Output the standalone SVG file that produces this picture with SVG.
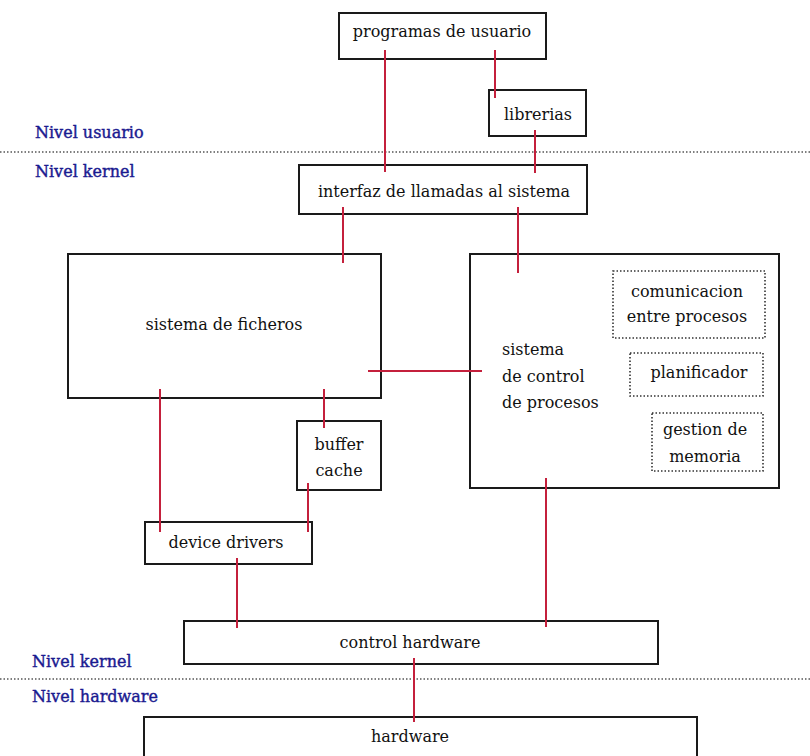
<svg xmlns="http://www.w3.org/2000/svg" width="810" height="756" viewBox="0 0 810 756">
<style>
.box{fill:none;stroke:#1a1a1a;stroke-width:2}
.dbox{fill:none;stroke:#333;stroke-width:1.6;stroke-dasharray:1.5 2}
.t{font-family:"DejaVu Serif","Liberation Serif",serif;font-size:16px;fill:#111;text-anchor:middle}
.tl{font-family:"DejaVu Serif","Liberation Serif",serif;font-size:16px;fill:#111}
.lvl{font-family:"DejaVu Serif","Liberation Serif",serif;font-size:16px;fill:#1a1a90;stroke:#1a1a90;stroke-width:0.4}
.sep{stroke:#555;stroke-width:1.5;stroke-dasharray:1.5 2}
.c{stroke:#c4203c;stroke-width:2;fill:none}
</style>
<rect width="810" height="756" fill="#fff"/>
<g id="levels">
<line class="sep" x1="0" y1="152" x2="810" y2="152"/>
<line class="sep" x1="0" y1="679" x2="810" y2="679"/>
<text class="lvl" x="35" y="138">Nivel usuario</text>
<text class="lvl" x="35" y="177">Nivel kernel</text>
<text class="lvl" x="32" y="667">Nivel kernel</text>
<text class="lvl" x="32" y="702">Nivel hardware</text>
</g>
<g id="programas">
<rect class="box" x="339" y="13" width="207" height="46"/>
<text class="t" x="442" y="37">programas de usuario</text>
</g>
<g id="librerias">
<rect class="box" x="489" y="90" width="97" height="46"/>
<text class="t" x="538" y="120">librerias</text>
</g>
<g id="interfaz">
<rect class="box" x="299" y="165" width="288" height="49"/>
<text class="t" x="444" y="197">interfaz de llamadas al sistema</text>
</g>
<g id="ficheros">
<rect class="box" x="68" y="254" width="313" height="144"/>
<text class="t" x="224" y="330">sistema de ficheros</text>
</g>
<g id="control-procesos">
<rect class="box" x="470" y="254" width="309" height="234"/>
<text class="tl" x="502" y="355">sistema</text>
<text class="tl" x="502" y="382">de control</text>
<text class="tl" x="502" y="408">de procesos</text>
</g>
<g id="comunicacion">
<rect class="dbox" x="613" y="271" width="152" height="67"/>
<text class="t" x="687" y="297">comunicacion</text>
<text class="t" x="687" y="322">entre procesos</text>
</g>
<g id="planificador">
<rect class="dbox" x="630" y="353" width="133" height="43"/>
<text class="t" x="699" y="378">planificador</text>
</g>
<g id="gestion">
<rect class="dbox" x="652" y="413" width="111" height="58"/>
<text class="t" x="705" y="435">gestion de</text>
<text class="t" x="705" y="462">memoria</text>
</g>
<g id="buffer">
<rect class="box" x="297" y="421" width="84" height="69"/>
<text class="t" x="339" y="450">buffer</text>
<text class="t" x="339" y="476">cache</text>
</g>
<g id="drivers">
<rect class="box" x="145" y="522" width="167" height="42"/>
<text class="t" x="226" y="548">device drivers</text>
</g>
<g id="control-hardware">
<rect class="box" x="184" y="621" width="474" height="43"/>
<text class="t" x="410" y="648">control hardware</text>
</g>
<g id="hardware">
<rect class="box" x="144" y="717" width="553" height="60"/>
<text class="t" x="410" y="742">hardware</text>
</g>
<g id="connectors">
<line class="c" x1="385" y1="50" x2="385" y2="172"/>
<line class="c" x1="495" y1="50" x2="495" y2="98"/>
<line class="c" x1="535" y1="130" x2="535" y2="173"/>
<line class="c" x1="343" y1="207" x2="343" y2="263"/>
<line class="c" x1="518" y1="207" x2="518" y2="273"/>
<line class="c" x1="368" y1="371" x2="482" y2="371"/>
<line class="c" x1="160" y1="389" x2="160" y2="532"/>
<line class="c" x1="324" y1="389" x2="324" y2="428"/>
<line class="c" x1="308" y1="483" x2="308" y2="532"/>
<line class="c" x1="237" y1="558" x2="237" y2="628"/>
<line class="c" x1="546" y1="478" x2="546" y2="627"/>
<line class="c" x1="414" y1="658" x2="414" y2="722"/>
</g>
</svg>
